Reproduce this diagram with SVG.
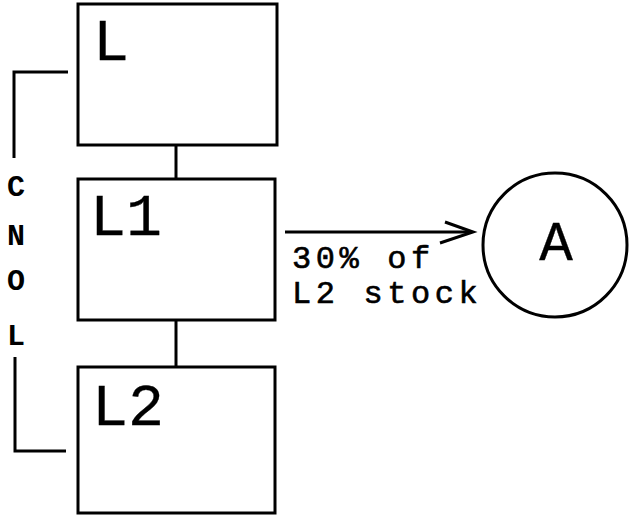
<svg xmlns="http://www.w3.org/2000/svg" width="635" height="518" viewBox="0 0 635 518">
<style>
.box{fill:#fff;stroke:#000;stroke-width:3}
.ln{fill:none;stroke:#000;stroke-width:3}
.t{font-family:"Courier New","Nimbus Mono PS","FreeMono","Liberation Mono",monospace;fill:#000}
.big{font-size:60px;stroke:#000;stroke-width:0.3}
.lbl{font-size:32px;letter-spacing:4.6px;stroke:#000;stroke-width:0.6}
.side{font-size:30px;font-weight:bold;text-anchor:middle}
</style>
<rect width="635" height="518" fill="#fff"/>
<g id="connectors">
<line class="ln" x1="176" y1="145" x2="176" y2="179"/>
<line class="ln" x1="176" y1="320" x2="176" y2="367"/>
<polyline class="ln" points="68,72 14,72 14,158"/>
<polyline class="ln" points="15,357 15,451 66,451"/>
<line class="ln" x1="285" y1="232" x2="472" y2="232"/>
<polyline class="ln" points="445,222 473,232 440,243"/>
<text class="t lbl" x="292" y="268">30% of</text>
<text class="t lbl" x="292" y="303">L2 stock</text>
</g>
<g id="cnol">
<text class="t side" x="16" y="196">C</text>
<text class="t side" x="16" y="245">N</text>
<text class="t side" x="16" y="290">O</text>
<text class="t side" x="16" y="345">L</text>
</g>
<g id="L">
<rect class="box" x="78" y="4" width="199" height="141"/>
<text class="t big" x="93" y="60">L</text>
</g>
<g id="L1">
<rect class="box" x="78" y="179" width="197" height="141"/>
<text class="t big" x="90" y="235">L1</text>
</g>
<g id="L2">
<rect class="box" x="78" y="367" width="197" height="146"/>
<text class="t big" x="92" y="425">L2</text>
</g>
<g id="A">
<circle class="box" cx="555" cy="245" r="72"/>
<text class="t big" x="556" y="260" text-anchor="middle" style="font-size:56px">A</text>
</g>
</svg>
